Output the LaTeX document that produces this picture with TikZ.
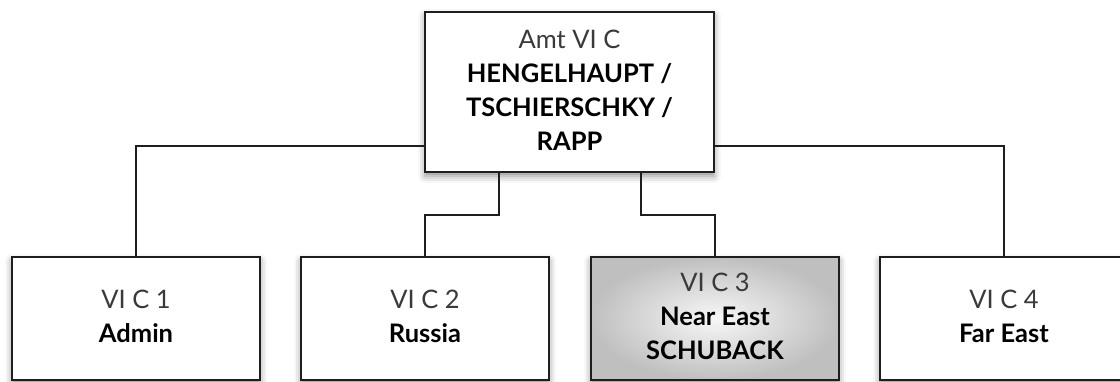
\documentclass[tikz,border=0pt]{standalone}
\usepackage{fontspec}
\setmainfont{Lato}
\usetikzlibrary{shadows.blur}
\definecolor{edge}{HTML}{1E1E1E}
\definecolor{lighttext}{HTML}{3A3A3A}
\tikzset{
  orgbox/.style={draw=edge, line width=1.5pt, fill=white, rectangle, inner sep=0pt,
    blur shadow={shadow xshift=0pt, shadow yshift=-4pt, shadow blur radius=7pt, shadow opacity=45}},
  graybox/.style={orgbox, shading=radial, inner color=gray!6, outer color=gray!50},
  boxtext/.style={align=center, font=\fontsize{25.5}{34}\selectfont, inner sep=0pt, text depth=0pt},
  conn/.style={draw=edge, line width=1.5pt}
}
\newcommand{\lt}[1]{{\color{lighttext}#1}}
\begin{document}
\begin{tikzpicture}[x=1pt,y=-1pt]
\useasboundingbox (0,0) rectangle (1120,381);
% boxes
\node[orgbox, minimum width=289pt, minimum height=160pt] (top) at (569.5,92) {};
\node[orgbox, minimum width=248pt, minimum height=123pt] (b1) at (136,318.5) {};
\node[orgbox, minimum width=248pt, minimum height=123pt] (b2) at (425,318.5) {};
\node[graybox, minimum width=248pt, minimum height=123pt] (b3) at (715,318.5) {};
\node[orgbox, minimum width=248pt, minimum height=123pt] (b4) at (1004,318.5) {};
% texts
\node[boxtext] (ttop) at (569.5,90) {\lt{Amt VI C}\\\textbf{HENGELHAUPT /}\\\textbf{TSCHIERSCHKY /}\\\textbf{RAPP}};
\node[boxtext] (t1) at (136,316) {\lt{VI C 1}\\\textbf{Admin}};
\node[boxtext] (t2) at (425,316) {\lt{VI C 2}\\\textbf{Russia}};
\node[boxtext] (t3) at (715,316) {\lt{VI C 3}\\\textbf{Near East}\\\textbf{SCHUBACK}};
\node[boxtext] (t4) at (1004,316) {\lt{VI C 4}\\\textbf{Far East}};
% connector anchors
\coordinate (jL) at (top.west |- 0,146);
\coordinate (jR) at (top.east |- 0,146);
\coordinate (sL) at (top.south -| 499,0);
\coordinate (sR) at (top.south -| 641,0);
% connectors
\draw[conn] (jL) -| (b1.north);
\draw[conn] (jR) -| (b4.north);
\draw[conn] (sL) |- (425,215) -- (b2.north);
\draw[conn] (sR) |- (715,215) -- (b3.north);
\end{tikzpicture}
\end{document}
